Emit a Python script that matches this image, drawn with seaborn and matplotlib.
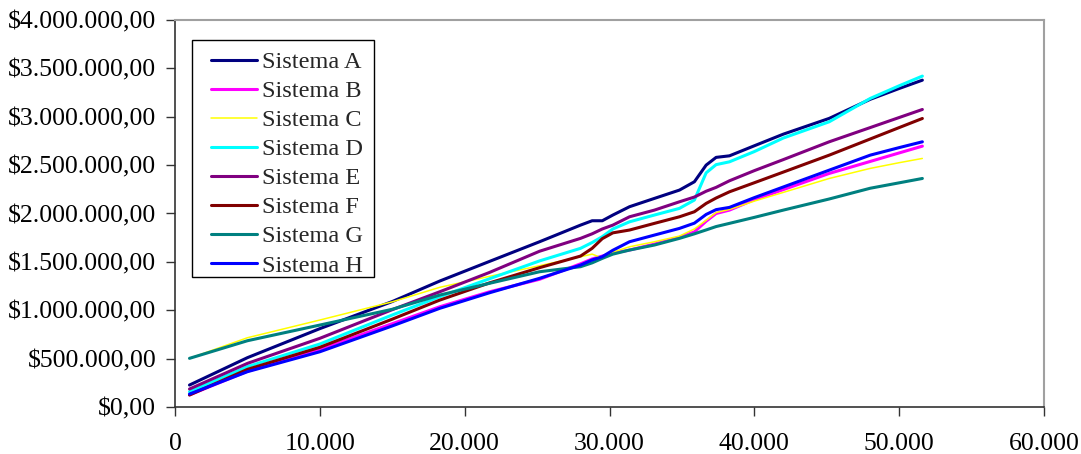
import matplotlib
matplotlib.use("Agg")
import matplotlib.pyplot as plt
import matplotlib.ticker as mticker
from matplotlib.patches import Rectangle
import seaborn as sns
import pandas as pd

# ---- data (values in thousands of $) ----
x_vals = [1000, 5000, 10000, 15000, 18280, 21700, 25170, 28000, 28800, 29500,
          30230, 31380, 33100, 34830, 35860, 36670, 37360, 38280, 40000, 42000,
          45170, 48000, 50000, 51600]

sistema_a = [227, 510, 810, 1090, 1302, 1504, 1708, 1880, 1925, 1925,
             1984, 2070, 2156, 2242, 2328, 2500, 2580, 2596, 2700, 2820,
             2983, 3180, 3292, 3378]
sistema_b = [125, 370, 596, 861, 1036, 1190, 1320, 1480, 1530, 1560,
             1590, 1622, 1684, 1753, 1810, 1920, 2000, 2035, 2143, 2247,
             2414, 2538, 2626, 2696]
sistema_c = [503, 716, 899, 1087, 1237, 1350, 1460, 1553, 1580, 1540,
             1600, 1656, 1708, 1767, 1840, 1930, 2010, 2042, 2128, 2218,
             2362, 2466, 2525, 2569]
sistema_d = [158, 417, 651, 951, 1140, 1325, 1510, 1640, 1700, 1760,
             1840, 1914, 1984, 2053, 2139, 2420, 2505, 2534, 2640, 2780,
             2948, 3189, 3320, 3420]
sistema_e = [186, 451, 710, 1006, 1191, 1390, 1610, 1743, 1790, 1840,
             1880, 1966, 2035, 2121, 2170, 2230, 2270, 2338, 2443, 2557,
             2741, 2888, 2992, 3075]
sistema_f = [124, 389, 617, 908, 1105, 1282, 1440, 1560, 1640, 1740,
             1800, 1829, 1898, 1966, 2018, 2104, 2160, 2224, 2318, 2428,
             2603, 2770, 2888, 2982]
sistema_g = [503, 685, 847, 1010, 1157, 1278, 1398, 1450, 1490, 1536,
             1580, 1622, 1674, 1743, 1790, 1830, 1865, 1898, 1960, 2035,
             2150, 2261, 2317, 2362]
sistema_h = [134, 365, 571, 838, 1020, 1180, 1330, 1467, 1520, 1553,
             1620, 1708, 1777, 1846, 1900, 1990, 2040, 2063, 2164, 2274,
             2448, 2603, 2681, 2741]

series_names = ["Sistema A", "Sistema B", "Sistema C", "Sistema D",
                "Sistema E", "Sistema F", "Sistema G", "Sistema H"]
series_values = [sistema_a, sistema_b, sistema_c, sistema_d,
                 sistema_e, sistema_f, sistema_g, sistema_h]
series_colors = ["#000080", "#FF00FF", "#FFFF00", "#00FFFF",
                 "#800080", "#800000", "#008080", "#0000FF"]
series_widths = [2.2, 2.2, 1.1, 2.2, 2.2, 2.2, 2.2, 2.2]

x_ticks = [0, 10000, 20000, 30000, 40000, 50000, 60000]
y_ticks = [0, 500000, 1000000, 1500000, 2000000, 2500000, 3000000, 3500000, 4000000]

# ---- style ----
sns.set_style("white")
plt.rcParams["font.family"] = ["Liberation Serif", "DejaVu Serif"]

fig = plt.figure(figsize=(10.81, 4.54), dpi=100)
ax = fig.add_axes([0.1619, 0.1035, 0.8039, 0.8525])

for name, vals, col, lw in zip(series_names, series_values, series_colors, series_widths):
    df = pd.DataFrame({"x": x_vals, "y": [v * 1000 for v in vals]})
    sns.lineplot(data=df, x="x", y="y", color=col, linewidth=lw, label=name, ax=ax)

ax.set_xlim(0, 60000)
ax.set_ylim(0, 4000000)
ax.set_xticks(x_ticks)
ax.set_yticks(y_ticks)


def fmt_x(v, pos):
    return f"{int(v):,}".replace(",", ".")


def fmt_y(v, pos):
    s = f"{v:,.2f}"
    s = s.replace(",", "X").replace(".", ",").replace("X", ".")
    return "$" + s


ax.xaxis.set_major_formatter(mticker.FuncFormatter(fmt_x))
ax.yaxis.set_major_formatter(mticker.FuncFormatter(fmt_y))
ax.set_xlabel("")
ax.set_ylabel("")

ax.tick_params(axis="both", direction="out", length=6.5, width=1.0, color="#333333",
               labelsize=18.5, labelcolor="black")
ax.tick_params(axis="y", pad=7, left=True)
ax.tick_params(axis="x", pad=12, bottom=True)

for side in ["left", "bottom"]:
    ax.spines[side].set_color("#333333")
    ax.spines[side].set_linewidth(1.2)
for side in ["top", "right"]:
    ax.spines[side].set_color("#A0A0A0")
    ax.spines[side].set_linewidth(1.5)

# legend (text + handles) without its own frame; a separate box drawn around it
leg = ax.legend(loc="upper left", bbox_to_anchor=(0.0414, 0.9197), fontsize=17.5,
                frameon=False, handlelength=1.9, handletextpad=0.2,
                labelspacing=0.29, borderpad=0.0, borderaxespad=0.0)
box = Rectangle((0.01956, 0.3359), 0.229 - 0.01956, 0.9483 - 0.3359,
                transform=ax.transAxes, fill=True, facecolor="white",
                edgecolor="black", linewidth=1.0, zorder=4)
ax.add_patch(box)
leg.set_zorder(5)

fig.savefig("out.png", dpi=100)
